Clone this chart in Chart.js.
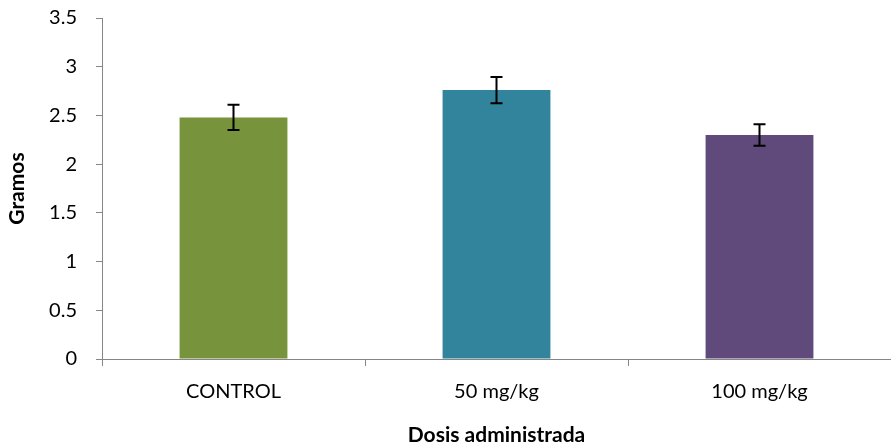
<!DOCTYPE html>
<html>
<head>
<meta charset="utf-8">
<script src="https://cdn.jsdelivr.net/npm/chart.js@4.4.0/dist/chart.umd.min.js"></script>
<style>
  html, body { margin: 0; padding: 0; background: #fff; }
  #wrap { width: 891px; height: 446px; }
</style>
</head>
<body>
<div id="wrap"><canvas id="chart"></canvas></div>
<script>
// --- data ---
const categories = ['CONTROL', '50 mg/kg', '100 mg/kg'];
const values = [2.48, 2.76, 2.30];
const errors = [0.13, 0.135, 0.11];
const barColors = ['#77933C', '#31849B', '#604A7B'];
const yTicks = [0, 0.5, 1, 1.5, 2, 2.5, 3, 3.5];

const FONT = 'Lato, "Open Sans", sans-serif';
const AXIS_GREY = '#868686';

// draw error bars from the data through the y scale
const errorBars = {
    id: 'errorBars',
    afterDatasetsDraw(chart) {
        const ctx = chart.ctx;
        const y = chart.scales.y;
        const meta = chart.getDatasetMeta(0);
        ctx.save();
        ctx.strokeStyle = '#000';
        ctx.lineWidth = 2;
        meta.data.forEach((bar, i) => {
            const top = y.getPixelForValue(values[i] + errors[i]);
            const bot = y.getPixelForValue(values[i] - errors[i]);
            const x = bar.x;
            ctx.beginPath();
            ctx.moveTo(x, top); ctx.lineTo(x, bot);
            ctx.moveTo(x - 6, top); ctx.lineTo(x + 6, top);
            ctx.moveTo(x - 6, bot); ctx.lineTo(x + 6, bot);
            ctx.stroke();
        });
        ctx.restore();
    }
};

new Chart(document.getElementById('chart'), {
    type: 'bar',
    data: {
        labels: categories,
        datasets: [{
            data: values,
            backgroundColor: barColors,
            borderWidth: 0,
            categoryPercentage: 1,
            barPercentage: 0.41
        }]
    },
    options: {
        responsive: true,
        maintainAspectRatio: false,
        animation: false,
        layout: { padding: 0 },
        plugins: { legend: { display: false }, tooltip: { enabled: false } },
        scales: {
            y: {
                min: 0, max: 3.5,
                afterBuildTicks: (s) => { s.ticks = yTicks.map(v => ({ value: v })); },
                afterFit: (s) => { s.width = 102; s.paddingTop = 18; s.paddingBottom = 0; },
                border: { color: AXIS_GREY, width: 1 },
                grid: { drawOnChartArea: false, drawTicks: true, tickLength: 6, color: AXIS_GREY },
                ticks: {
                    color: '#000', font: { family: FONT, size: 20 }, padding: 19,
                    callback: (v) => String(v)
                },
                title: { display: true, text: 'Gramos', color: '#000', font: { family: FONT, size: 21, weight: 'bold' }, padding: { top: 5, bottom: 0 } }
            },
            x: {
                offset: true,
                afterFit: (s) => { s.height = 87; },
                border: { color: AXIS_GREY, width: 1 },
                grid: { offset: true, drawOnChartArea: false, drawTicks: true, tickLength: 7, color: AXIS_GREY },
                ticks: { color: '#000', font: { family: FONT, size: 20 }, padding: 14 },
                title: { display: true, text: 'Dosis administrada', color: '#000', font: { family: FONT, size: 21, weight: 'bold' }, padding: { top: 0, bottom: -2 } }
            }
        }
    },
    plugins: [errorBars]
});
</script>
</body>
</html>
